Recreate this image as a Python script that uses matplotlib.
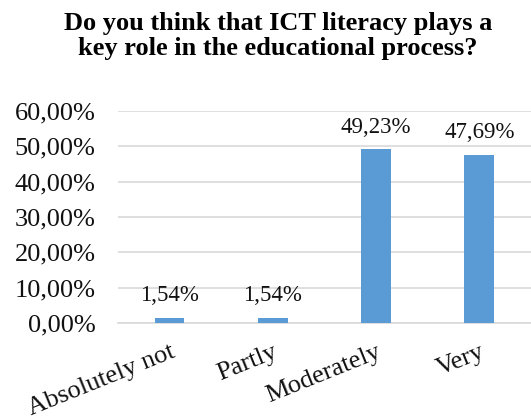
import matplotlib.pyplot as plt

# Survey answers
categories = ['Absolutely not', 'Partly', 'Moderately', 'Very']
values = [1.54, 1.54, 49.23, 47.69]
y_ticks = [0, 10, 20, 30, 40, 50, 60]

plt.rcParams['font.family'] = ['Liberation Serif', 'DejaVu Serif']

fig = plt.figure(figsize=(5.31, 4.19), dpi=100)
ax = fig.add_axes([0.222, 0.229, 0.778, 0.506])

x = range(len(categories))
ax.bar(x, values, width=0.29, color='#5B9BD5', zorder=3)

# Value labels above bars
for i, v in zip(x, values):
    ax.text(i, v + 3.2, f'{v:.2f}%'.replace('.', ','), ha='center', va='bottom',
            fontsize=16.5, color='#111111')

ax.set_xlim(-0.5, 3.5)
ax.set_ylim(0, 60)
ax.set_yticks(y_ticks)
ax.set_yticklabels([f'{t:.2f}%'.replace('.', ',') for t in y_ticks], fontsize=19, color='#111111')
ax.set_xticks(list(x))
ax.set_xticklabels(categories, fontsize=19, rotation=22, ha='right',
                   rotation_mode='anchor', color='#111111')
ax.tick_params(axis='both', length=0)
ax.tick_params(axis='y', pad=16)
ax.tick_params(axis='x', pad=13)

ax.grid(axis='y', color='#d9d9d9', linewidth=1.2, zorder=0)
for s in ['top', 'right', 'left']:
    ax.spines[s].set_visible(False)
ax.spines['bottom'].set_color('#d9d9d9')
ax.spines['bottom'].set_linewidth(1.2)

fig.text(0.524, 0.972, 'Do you think that ICT literacy plays a\nkey role in the educational process?',
         ha='center', va='top', fontsize=19, fontweight='bold', linespacing=1.15)

fig.savefig('out.png', dpi=100)
